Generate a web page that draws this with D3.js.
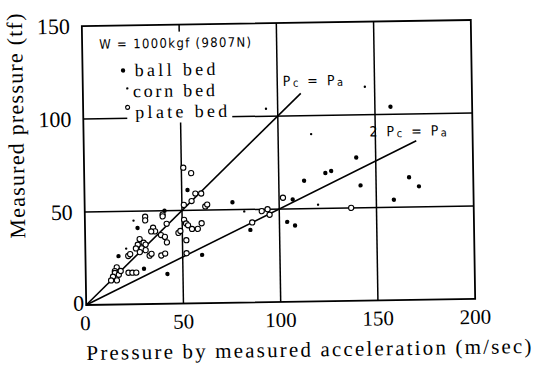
<!DOCTYPE html>
<html>
<head>
<meta charset="utf-8">
<script src="https://cdn.jsdelivr.net/npm/d3@7"></script>
<style>
  body { margin: 0; background: #fff; }
  text { fill: #000; }
</style>
</head>
<body>
<div class="chart"></div>
<script>
// data (x: pressure by acceleration, y: measured pressure)
var ballBed = [
    [158, 104], [140, 77], [124, 69], [127, 70], [113, 65], [142, 62], [167, 66],
    [172, 61], [159, 54], [107, 55], [104, 43], [108, 41], [53, 61], [76, 54],
    [85, 39], [60, 26], [41, 50], [27, 41], [17, 26], [30, 19], [42, 16]
];
var cornBed = [
    [25, 45], [21, 30], [117, 90], [145, 115], [94, 104], [120, 52], [82, 49]
];
var plateBed = [
    [51, 73], [55, 70], [57, 59], [60, 59], [55, 55], [51, 53], [62, 52], [63, 53],
    [40, 48], [40, 47], [31, 47], [31, 45], [35, 41], [36, 39], [34, 39], [42, 43],
    [39, 37], [41, 36], [42, 33], [51, 45], [52, 43], [53, 42], [55, 40], [58, 40],
    [60, 43], [48, 38], [52, 34], [28, 35], [30, 33], [31, 32], [27, 32], [26, 30],
    [29, 30], [31, 29], [28, 28], [22, 26], [23, 27], [33, 26], [34, 27], [39, 26],
    [41, 27], [16, 20], [15, 18], [15, 17], [14, 15], [17, 16], [18, 18], [13, 13],
    [16, 13], [22, 17], [24, 17], [26, 17], [91, 49], [94, 50], [86, 43], [102, 56],
    [137, 50], [95, 47], [52, 27], [49, 39]
];
var xTicks = [0, 50, 100, 150, 200];
var yTicks = [0, 50, 100, 150];
var gridX = [50, 100, 150];
var gridY = [50, 100];
// reference lines: Pc = Pa and 2Pc = Pa
var linePcPa = [[0, 0], [112, 112]];
var line2PcPa = [[0, 0], [171, 85.5]];

var W = 536, H = 365;
var frame = { left: 84, right: 473, top: 23, bottom: 302 };
var serif = "'Liberation Serif', serif";
var sans = "'DejaVu Sans Condensed', 'DejaVu Sans', sans-serif";

var svg = d3.select('.chart')
    .append('svg')
    .attr('width', W)
    .attr('height', H);

// the scanned figure sits slightly askew
var g = svg.append('g')
    .attr('transform', 'rotate(-0.9,' + (frame.left + frame.right) / 2 + ',' + (frame.top + frame.bottom) / 2 + ')');

var xScale = d3.scaleLinear().domain([0, 200]).range([frame.left, frame.right]);
var yScale = d3.scaleLinear().domain([0, 150]).range([frame.bottom, frame.top]);

// grid
g.selectAll('.gx')
    .data(gridX)
    .enter()
    .append('line')
    .attr('x1', d => xScale(d)).attr('x2', d => xScale(d))
    .attr('y1', frame.top).attr('y2', frame.bottom)
    .attr('stroke', '#000').attr('stroke-width', 1.5);

g.selectAll('.gy')
    .data(gridY)
    .enter()
    .append('line')
    .attr('x1', frame.left).attr('x2', frame.right)
    .attr('y1', d => yScale(d)).attr('y2', d => yScale(d))
    .attr('stroke', '#000').attr('stroke-width', 1.5);

g.append('rect')
    .attr('x', frame.left).attr('y', frame.top)
    .attr('width', frame.right - frame.left)
    .attr('height', frame.bottom - frame.top)
    .attr('fill', 'none').attr('stroke', '#000').attr('stroke-width', 1.8);

// tick labels
g.selectAll('.xt')
    .data(xTicks)
    .enter()
    .append('text')
    .style('font-family', serif)
    .attr('x', d => xScale(d) - (d === 0 ? 1 : 0))
    .attr('y', 327)
    .attr('text-anchor', 'middle')
    .attr('font-size', 21)
    .text(d => d);

g.selectAll('.yt')
    .data(yTicks)
    .enter()
    .append('text')
    .style('font-family', serif)
    .attr('x', d => d === 0 ? frame.left - 2 : 72)
    .attr('y', d => yScale(d) + (d === 0 ? -2 : 0))
    .attr('dy', '0.34em')
    .attr('text-anchor', 'end')
    .attr('font-size', 22)
    .text(d => d);

// axis titles
g.append('text')
    .style('font-family', serif)
    .attr('x', 306).attr('y', 357)
    .attr('text-anchor', 'middle')
    .attr('font-size', 21)
    .attr('textLength', 445)
    .text('Pressure by measured acceleration (m/sec)');

g.append('text')
    .style('font-family', serif)
    .attr('transform', 'translate(24,122) rotate(-90)')
    .attr('text-anchor', 'middle')
    .attr('font-size', 22)
    .attr('textLength', 225)
    .text('Measured pressure (tf)');

// reference lines
var line = d3.line().x(d => xScale(d[0])).y(d => yScale(d[1]));
[linePcPa, line2PcPa].forEach(function (l) {
    g.append('path')
        .attr('d', line(l))
        .attr('fill', 'none').attr('stroke', '#000').attr('stroke-width', 1.6);
});

// points
g.selectAll('.ball')
    .data(ballBed)
    .enter()
    .append('circle')
    .attr('cx', d => xScale(d[0])).attr('cy', d => yScale(d[1]))
    .attr('r', 2.2).attr('fill', '#000');

g.selectAll('.corn')
    .data(cornBed)
    .enter()
    .append('circle')
    .attr('cx', d => xScale(d[0])).attr('cy', d => yScale(d[1]))
    .attr('r', 1.2).attr('fill', '#000');

g.selectAll('.plate')
    .data(plateBed)
    .enter()
    .append('circle')
    .attr('cx', d => xScale(d[0])).attr('cy', d => yScale(d[1]))
    .attr('r', 2.6).attr('fill', '#fff')
    .attr('stroke', '#000').attr('stroke-width', 1.1);

// legend block (white, hides the grid behind it)
g.append('rect')
    .attr('x', 128).attr('y', 30)
    .attr('width', 105).attr('height', 91)
    .attr('fill', '#fff');

g.append('text')
    .style('font-family', sans)
    .attr('x', 101).attr('y', 46)
    .attr('font-size', 13)
    .attr('textLength', 152)
    .text('W = 1000kgf (9807N)');

var legendItems = [
    { label: 'ball bed', r: 2.2, open: false, sx: 124.5, sy: 68, tx: 136, ty: 74, len: 81 },
    { label: 'corn bed', r: 1.2, open: false, sx: 128.5, sy: 86, tx: 134, ty: 95, len: 82 },
    { label: 'plate bed', r: 2, open: true, sx: 128.5, sy: 105, tx: 136, ty: 116, len: 92 }
];
legendItems.forEach(function (it) {
    g.append('circle')
        .attr('cx', it.sx).attr('cy', it.sy).attr('r', it.r)
        .attr('fill', it.open ? '#fff' : '#000')
        .attr('stroke', it.open ? '#000' : 'none')
        .attr('stroke-width', 1.1);
    g.append('text')
        .style('font-family', serif)
        .attr('x', it.tx).attr('y', it.ty)
        .attr('font-size', 18)
        .attr('textLength', it.len)
        .text(it.label);
});

// line labels
function eqLabel(x, y, prefix) {
    var t = g.append('text')
        .style('font-family', sans)
        .attr('x', x).attr('y', y)
        .attr('font-size', 14)
        .attr('letter-spacing', 2.5);
    t.append('tspan').text(prefix + 'P');
    t.append('tspan').attr('font-size', 11).attr('dy', 1).text('c');
    t.append('tspan').attr('dy', -1).text(' = P');
    t.append('tspan').attr('font-size', 11).attr('dy', 1).text('a');
}
eqLabel(284, 86, '');
eqLabel(370, 138, '2 ');
</script>
</body>
</html>
